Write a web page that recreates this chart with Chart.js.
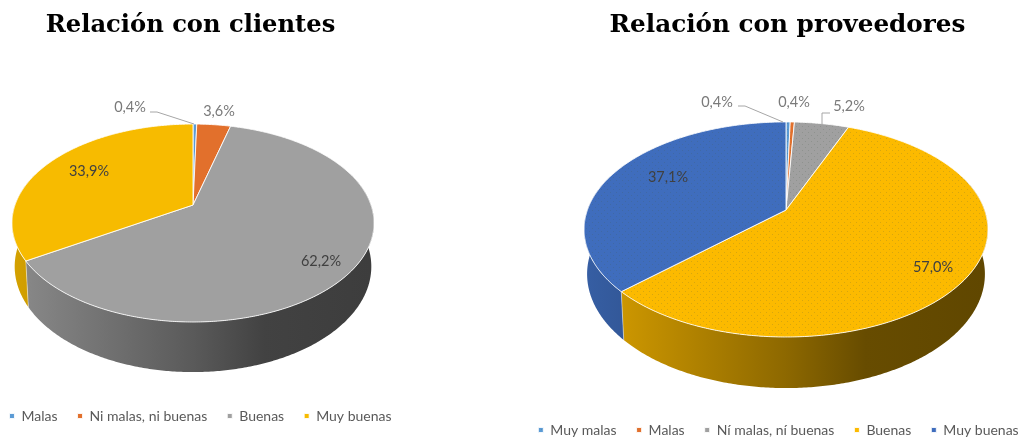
<!DOCTYPE html>
<html>
<head>
<meta charset="utf-8">
<title>Relación con clientes y proveedores</title>
<script src="https://cdn.jsdelivr.net/npm/chart.js@4"></script>
<style>
  html, body { margin: 0; padding: 0; background: #fff; overflow: hidden; }
  .box { position: absolute; top: 0; height: 437px; }
  #boxClientes { left: 0; width: 490px; }
  #boxProveedores { left: 490px; width: 531px; }
</style>
</head>
<body>
<div class="box" id="boxClientes"><canvas id="chartClientes"></canvas></div>
<div class="box" id="boxProveedores"><canvas id="chartProveedores"></canvas></div>
<script>
// Data
const clientesLabels = ["Malas", "Ni malas, ni buenas", "Buenas", "Muy buenas"];
const clientesValues = [0.4, 3.6, 62.2, 33.9];
const clientesColors = ["#5b9bd5", "#e2702c", "#a0a0a0", "#f7bb00"];

const proveedoresLabels = ["Muy malas", "Malas", "Ní malas, ní buenas", "Buenas", "Muy buenas"];
const proveedoresValues = [0.4, 0.4, 5.2, 57.0, 37.1];
const proveedoresColors = ["#5b9bd5", "#e2702c", "#a0a0a0", "#fcba00", "#3f6dbd"];

function fmt(v) {
  return v.toFixed(1).replace(".", ",") + "%";
}

function shade(hex, f) {
  const n = parseInt(hex.slice(1), 16);
  const r = Math.round(((n >> 16) & 255) * f);
  const g = Math.round(((n >> 8) & 255) * f);
  const b = Math.round((n & 255) * f);
  return `rgb(${r},${g},${b})`;
}

// The dotted fill on the right hand chart
function dotted(hex) {
  const c = document.createElement("canvas");
  c.width = 6;
  c.height = 6;
  const g = c.getContext("2d");
  g.fillStyle = hex;
  g.fillRect(0, 0, 6, 6);
  g.fillStyle = "rgba(70,90,70,0.2)";
  g.fillRect(0, 0, 1, 1);
  g.fillRect(3, 3, 1, 1);
  return g.createPattern(c, "repeat");
}

// Perspective view of the disc, the angle comes from the controller
function project(view, angle, lower) {
  const u = Math.cos(angle);
  const v = Math.sin(angle);
  const s = 1 / (1 - view.k * v);
  const m = lower ? view.shrink : 1;
  return {
    x: view.cx + view.a * m * u * s,
    y: view.apexY + view.b * m * v * s + (lower ? view.depth * s : 0),
  };
}

function traceEdge(ctx, view, from, to, lower, first) {
  const steps = Math.max(2, Math.ceil(Math.abs(to - from) / 0.01));
  for (let i = 0; i <= steps; i++) {
    const p = project(view, from + ((to - from) * i) / steps, lower);
    if (i === 0 && first) ctx.moveTo(p.x, p.y);
    else ctx.lineTo(p.x, p.y);
  }
}

class Arc3D extends Chart.ArcElement {
  static id = "arc3d";

  draw(ctx) {
    const view = this.$context.chart.options.plugins.pie3dView;
    const { startAngle, endAngle } = this.getProps(["startAngle", "endAngle"]);
    const opts = this.options;
    ctx.save();
    ctx.beginPath();
    ctx.moveTo(view.cx, view.apexY);
    traceEdge(ctx, view, startAngle, endAngle, false, false);
    ctx.closePath();
    ctx.fillStyle = opts.backgroundColor;
    ctx.fill();
    ctx.strokeStyle = opts.borderColor;
    ctx.lineWidth = opts.borderWidth;
    ctx.lineJoin = "round";
    ctx.stroke();
    ctx.restore();
  }
}

class Pie3DController extends Chart.PieController {
  static id = "pie3d";
  static defaults = { dataElementType: "arc3d" };

  draw() {
    const ctx = this.chart.ctx;
    const view = this.chart.options.plugins.pie3dView;
    const colors = view.colors;
    const minA = -0.35;
    const maxA = Math.PI + 0.35;
    const arcs = this._cachedMeta.data;

    // side wall goes under the top of the pie
    arcs.forEach((arc, i) => {
      const { startAngle, endAngle } = arc.getProps(["startAngle", "endAngle"]);
      // angles can run past a full turn, look at both windows
      [0, 2 * Math.PI, -2 * Math.PI].forEach((shift) => {
        const from = Math.max(startAngle + shift, minA);
        const to = Math.min(endAngle + shift, maxA);
        if (to <= from) return;
        const grad = ctx.createLinearGradient(view.cx - view.a, 0, view.cx + view.a, 0);
        grad.addColorStop(0, shade(colors[i], 0.86));
        grad.addColorStop(0.5, shade(colors[i], 0.56));
        grad.addColorStop(0.7, shade(colors[i], 0.41));
        grad.addColorStop(1, shade(colors[i], 0.38));
        ctx.beginPath();
        traceEdge(ctx, view, from, to, false, true);
        traceEdge(ctx, view, to, from, true, false);
        ctx.closePath();
        ctx.fillStyle = grad;
        ctx.fill();
        ctx.strokeStyle = "rgba(255,255,255,0.55)";
        ctx.lineWidth = 0.8;
        if (from > minA) {
          const a = project(view, from, false);
          const b = project(view, from, true);
          ctx.beginPath();
          ctx.moveTo(a.x, a.y);
          ctx.lineTo(b.x, b.y);
          ctx.stroke();
        }
      });
    });

    super.draw();
  }
}

Chart.register(Arc3D, Pie3DController);

// Percent labels and their leader lines
const sliceLabels = {
  id: "sliceLabels",
  afterDatasetsDraw(chart, args, opts) {
    const ctx = chart.ctx;
    const values = chart.data.datasets[0].data;
    ctx.save();
    ctx.font = opts.font;
    ctx.textAlign = "center";
    ctx.textBaseline = "middle";
    ctx.strokeStyle = "#a6a6a6";
    ctx.lineWidth = 1;
    opts.leaders.forEach((pts) => {
      ctx.beginPath();
      pts.forEach((p, i) => (i ? ctx.lineTo(p[0], p[1]) : ctx.moveTo(p[0], p[1])));
      ctx.stroke();
    });
    values.forEach((v, i) => {
      const p = opts.places[i];
      ctx.fillStyle = p[2] ? "#404040" : "#7a7a7a";
      ctx.fillText(fmt(v), p[0], p[1]);
    });
    ctx.restore();
  },
};

// Title and legend are not centred on the same x in the picture
const shiftBoxes = {
  id: "shiftBoxes",
  afterLayout(chart, args, opts) {
    chart.titleBlock.left += opts.title;
    chart.titleBlock.right += opts.title;
    chart.legend.left += opts.legend;
    chart.legend.right += opts.legend;
    chart.legend.top += opts.legendY;
    chart.legend.bottom += opts.legendY;
  },
};

function makeChart(id, labels, values, colors, fills, view, places, leaders, titleText, titleSize, shifts) {
  return new Chart(document.getElementById(id), {
    type: "pie3d",
    data: {
      labels: labels,
      datasets: [{
        data: values,
        backgroundColor: fills,
        borderColor: "rgba(255,255,255,0.85)",
        borderWidth: 1,
      }],
    },
    options: {
      responsive: false,
      animation: false,
      plugins: {
        pie3dView: Object.assign({ colors: colors }, view),
        title: {
          display: true,
          text: titleText,
          color: "#000",
          font: { family: "'DejaVu Serif'", size: titleSize, weight: "bold" },
          padding: { top: 11, bottom: 8 },
        },
        legend: {
          position: "bottom",
          labels: {
            boxWidth: 5,
            boxHeight: 5,
            padding: 20,
            color: "#595959",
            font: { family: "Lato", size: 14 },
          },
        },
        tooltip: { enabled: false },
        sliceLabels: { font: "14.5px Lato", places: places, leaders: leaders },
        shiftBoxes: shifts,
      },
    },
    plugins: [sliceLabels, shiftBoxes],
  });
}

function sizeCanvas(id, w, h) {
  const c = document.getElementById(id);
  c.width = w;
  c.height = h;
  c.style.width = w + "px";
  c.style.height = h + "px";
}

sizeCanvas("chartClientes", 490, 437);
sizeCanvas("chartProveedores", 531, 437);

makeChart(
  "chartClientes", clientesLabels, clientesValues, clientesColors, clientesColors,
  { cx: 193, apexY: 205, a: 178, b: 95.7, k: 0.182, depth: 42.4, shrink: 0.985 },
  [[130, 107, false], [219, 111, false], [321, 261, true], [89, 171, true]],
  [[[150, 112], [157, 112], [194, 124]]],
  "Relación con clientes", 24.2,
  { title: -54.5, legend: -44.5, legendY: -4 }
);

makeChart(
  "chartProveedores", proveedoresLabels, proveedoresValues, proveedoresColors,
  proveedoresColors.map(dotted),
  { cx: 296, apexY: 210, a: 198.6, b: 104, k: 0.181, depth: 43.4, shrink: 0.985 },
  [[227, 102, false], [304, 102, false], [359, 106, false], [443, 267, true], [178, 177, true]],
  [[[248, 106], [255, 106], [293, 122]], [[340, 113], [332, 113], [332, 125]]],
  "Relación con proveedores", 24.7,
  { title: 32, legend: 23, legendY: 10 }
);
</script>
</body>
</html>
